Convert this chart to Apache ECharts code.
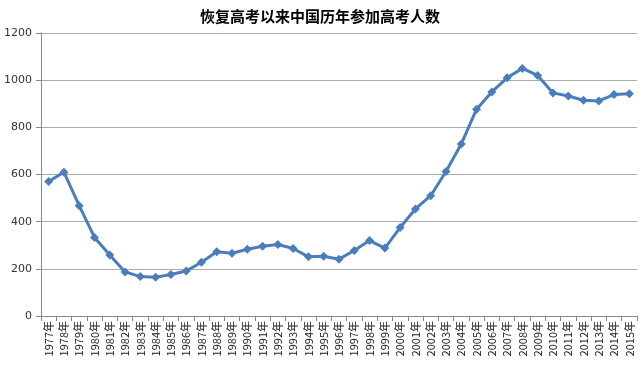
<!DOCTYPE html>
<html><head><meta charset="utf-8">
<script src="https://cdn.jsdelivr.net/npm/echarts@6/dist/echarts.min.js"></script>
<style>html,body{margin:0;padding:0;background:#fff}#c{width:640px;height:365px}</style>
</head><body><div id="c"></div>
<script>
const years = ['1977年','1978年','1979年','1980年','1981年','1982年','1983年','1984年','1985年','1986年','1987年','1988年','1989年','1990年','1991年','1992年','1993年','1994年','1995年','1996年','1997年','1998年','1999年','2000年','2001年','2002年','2003年','2004年','2005年','2006年','2007年','2008年','2009年','2010年','2011年','2012年','2013年','2014年','2015年'];
const examinees = [570,610,468,333,259,187,167,164,176,191,228,272,266,283,296,303,286,251,253,241,278,320,288,375,454,510,613,729,877,950,1010,1050,1020,946,933,915,912,939,942];
const yTicks = {min:0, max:1200, interval:200};
const chart = echarts.init(document.getElementById('c'));
chart.setOption({
  animation:false,
  title:{text:'恢复高考以来中国历年参加高考人数',left:'center',top:4,
    textStyle:{fontFamily:'Noto Sans CJK SC',fontSize:15,fontWeight:'bold',color:'#000'}},
  grid:{left:41,right:3,top:33,bottom:49,containLabel:false},
  xAxis:{type:'category',data:years,boundaryGap:true,
    axisLine:{lineStyle:{color:'#888',width:1}},
    axisTick:{show:true,alignWithLabel:false,length:5,lineStyle:{color:'#888'}},
    axisLabel:{rotate:90,interval:0,fontSize:11,color:'#222',margin:5,fontFamily:'Noto Sans CJK SC'}},
  yAxis:{type:'value',min:yTicks.min,max:yTicks.max,interval:yTicks.interval,
    axisLine:{show:true,lineStyle:{color:'#888'}},
    axisTick:{show:true,length:5,lineStyle:{color:'#888'}},
    splitLine:{lineStyle:{color:'#aaa',width:1}},
    axisLabel:{fontSize:11,color:'#333',margin:9,fontFamily:'DejaVu Sans',formatter:v=>String(v)}},
  series:[{type:'line',data:examinees,symbol:'diamond',symbolSize:9,
    lineStyle:{color:'#4A7EBB',width:3},itemStyle:{color:'#4A7EBB'}}]
});
</script></body></html>
